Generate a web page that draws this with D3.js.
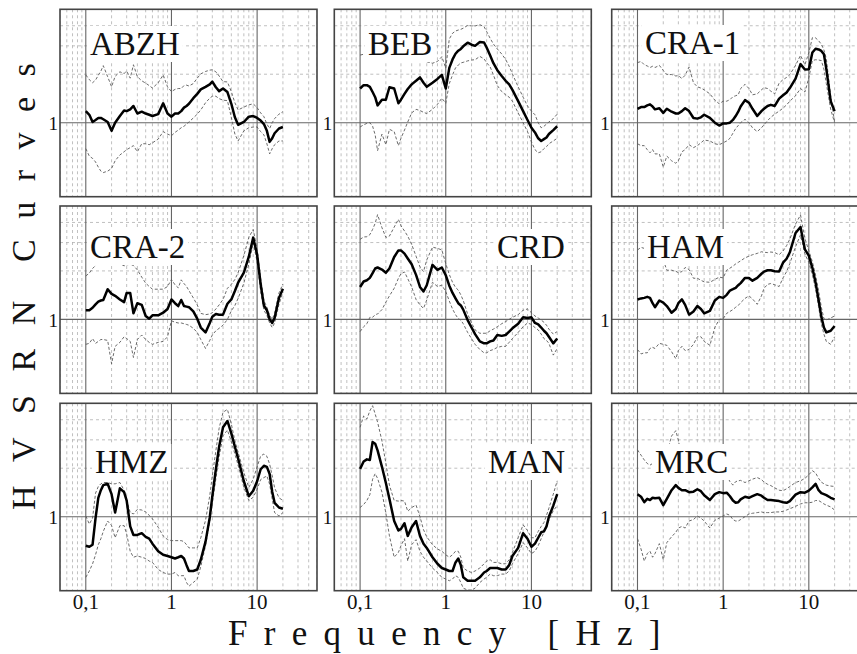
<!DOCTYPE html>
<html><head><meta charset="utf-8">
<script src="https://cdn.jsdelivr.net/npm/d3@7"></script>
<style>
html,body{margin:0;padding:0;background:#fff;overflow:hidden}
svg{display:block}
text{font-family:"Liberation Serif","Times New Roman",Times,serif;fill:#111}
</style></head><body>
<svg id="chart" width="857" height="654"></svg>
<script>
// ---------------- DATA ----------------
const stations = ["ABZH","BEB","CRA-1","CRA-2","CRD","HAM","HMZ","MAN","MRC"];
const freq = [0.10,0.11,0.12,0.13,0.14,0.15,0.16,0.18,0.20,0.22,0.25,0.28,0.30,0.33,0.36,0.40,0.45,0.50,0.55,0.60,0.70,0.80,0.90,1.0,1.1,1.2,1.3,1.4,1.5,1.6,1.8,2.0,2.2,2.5,2.8,3.0,3.3,3.6,4.0,4.5,5.0,5.5,6.0,7.0,8.0,9.0,10,11,12,13,14,15,16,18,20];

const abzhMean  = [1.18,1.12,1.01,1.04,1.07,1.07,1.05,1.01,0.89,1.00,1.10,1.19,1.18,1.21,1.27,1.14,1.17,1.14,1.12,1.10,1.13,1.32,1.14,1.09,1.14,1.14,1.18,1.24,1.27,1.31,1.42,1.51,1.61,1.67,1.73,1.80,1.66,1.57,1.63,1.55,1.31,1.08,0.97,1.01,1.09,1.10,1.07,1.03,0.98,0.89,0.76,0.80,0.86,0.92,0.94];
const abzhUpper = [1.98,1.85,1.77,1.84,1.97,2.09,2.26,1.93,1.67,1.94,2.07,2.02,2.09,1.89,2.29,1.93,1.82,1.76,1.70,1.64,1.77,1.98,1.67,1.56,1.61,1.63,1.63,1.70,1.71,1.69,1.75,1.89,2.01,2.08,2.12,2.13,2.07,1.95,1.80,1.79,1.56,1.33,1.20,1.25,1.29,1.31,1.24,1.15,1.09,0.98,0.92,1.00,1.06,1.13,1.17];
const abzhLower = [0.69,0.62,0.60,0.57,0.53,0.50,0.49,0.50,0.52,0.58,0.63,0.66,0.68,0.70,0.72,0.66,0.74,0.74,0.73,0.75,0.79,0.88,0.85,0.83,0.87,0.90,0.93,0.95,0.98,1.01,1.07,1.13,1.20,1.33,1.42,1.46,1.46,1.41,1.38,1.37,1.08,0.85,0.77,0.89,0.93,0.94,0.94,0.88,0.84,0.74,0.64,0.69,0.73,0.77,0.77];

const bebMean  = [1.63,1.71,1.71,1.67,1.55,1.44,1.28,1.39,1.39,1.66,1.63,1.32,1.39,1.51,1.62,1.73,1.82,1.91,1.77,1.67,1.77,1.87,1.98,1.63,2.19,2.47,2.68,2.80,2.87,2.98,3.14,3.05,3.00,3.17,3.15,2.93,2.61,2.34,2.12,1.95,1.82,1.73,1.60,1.36,1.18,1.04,0.93,0.87,0.80,0.77,0.79,0.81,0.85,0.90,0.95];
const bebUpper = [2.63,2.66,2.67,2.70,2.72,2.73,2.78,2.83,2.83,2.83,2.80,2.77,2.75,2.70,2.66,2.61,2.60,2.57,2.49,2.39,2.34,2.40,2.57,2.18,3.31,3.59,3.71,3.76,3.80,3.86,4.02,3.99,3.99,4.06,3.95,3.68,3.34,3.08,2.87,2.67,2.47,2.24,2.01,1.67,1.44,1.27,1.18,1.12,1.00,0.93,0.95,0.98,1.01,1.06,1.13];
const bebLower = [0.94,0.97,0.99,1.00,0.95,0.84,0.67,0.85,0.73,0.91,0.88,0.72,0.80,0.90,1.01,1.15,1.21,1.19,1.16,1.14,1.21,1.30,1.42,1.32,1.75,1.98,2.19,2.28,2.35,2.37,2.42,2.45,2.46,2.58,2.49,2.36,2.22,1.98,1.70,1.56,1.49,1.44,1.36,1.15,1.00,0.88,0.76,0.68,0.65,0.66,0.69,0.71,0.74,0.77,0.80];

const cra1Mean  = [1.22,1.25,1.25,1.28,1.30,1.26,1.21,1.23,1.15,1.22,1.17,1.14,1.14,1.18,1.23,1.18,1.07,1.06,1.08,1.12,1.07,1.00,0.96,0.99,0.99,1.00,1.04,1.10,1.17,1.26,1.38,1.33,1.22,1.10,1.18,1.22,1.27,1.29,1.27,1.41,1.48,1.54,1.64,1.88,2.31,2.14,2.15,2.73,2.88,2.85,2.79,2.66,2.16,1.36,1.18];
const cra1Upper = [2.36,2.40,2.29,2.25,2.20,2.24,2.20,2.27,2.11,1.99,1.99,1.95,1.96,1.88,1.97,2.22,1.77,1.67,1.64,1.60,1.51,1.38,1.31,1.36,1.36,1.39,1.45,1.47,1.49,1.63,1.73,1.63,1.49,1.51,1.60,1.65,1.63,1.57,1.51,1.76,1.85,1.91,1.99,2.27,2.62,2.29,2.72,3.37,3.36,3.23,3.07,2.83,2.50,1.46,1.01];
const cra1Lower = [0.74,0.72,0.72,0.68,0.65,0.68,0.64,0.64,0.53,0.62,0.58,0.56,0.58,0.66,0.68,0.73,0.70,0.72,0.75,0.78,0.77,0.74,0.73,0.75,0.77,0.80,0.86,0.92,0.96,1.00,1.05,1.00,0.93,0.88,0.93,0.97,1.03,1.08,1.13,1.18,1.23,1.29,1.36,1.47,1.63,1.55,1.90,2.43,2.46,2.45,2.43,2.15,1.75,1.21,1.00];

const cra2Mean  = [1.14,1.14,1.18,1.24,1.29,1.31,1.32,1.54,1.44,1.40,1.33,1.28,1.46,1.46,1.09,1.26,1.23,1.05,1.01,1.06,1.06,1.10,1.16,1.33,1.26,1.21,1.32,1.21,1.20,1.19,1.12,1.01,0.89,0.83,0.95,1.04,1.08,1.07,1.07,1.25,1.33,1.50,1.69,1.95,2.45,3.22,2.52,1.65,1.22,1.14,1.00,0.95,1.02,1.36,1.55];
const cra2Upper = [1.86,1.94,2.07,2.16,2.26,2.33,2.38,2.38,2.33,2.25,2.22,2.15,2.18,2.20,2.16,2.03,1.83,1.68,1.60,1.54,1.54,1.54,1.60,1.77,1.64,1.57,1.76,1.67,1.60,1.51,1.36,1.23,1.09,1.07,1.08,1.10,1.16,1.23,1.33,1.56,1.65,1.77,1.95,2.49,3.23,3.62,2.72,1.80,1.31,1.19,1.06,1.00,1.09,1.46,1.66];
const cra2Lower = [0.70,0.71,0.76,0.71,0.73,0.75,0.75,0.74,0.53,0.68,0.72,0.78,0.76,0.73,0.58,0.75,0.80,0.75,0.72,0.70,0.72,0.73,0.78,0.98,0.96,0.95,0.95,0.94,0.93,0.92,0.88,0.83,0.75,0.66,0.74,0.80,0.85,0.88,0.92,1.00,1.13,1.22,1.35,1.68,2.20,2.99,2.28,1.49,1.14,1.06,0.95,0.89,0.95,1.24,1.48];

const crdMean  = [1.59,1.72,1.75,1.81,1.94,2.07,2.10,2.04,1.95,2.07,2.44,2.68,2.68,2.56,2.39,2.20,1.89,1.59,1.49,1.63,2.18,2.03,2.10,1.88,1.62,1.46,1.35,1.26,1.22,1.15,0.99,0.89,0.81,0.73,0.71,0.71,0.73,0.74,0.80,0.79,0.80,0.84,0.88,0.94,1.03,1.02,1.03,0.95,0.93,0.89,0.85,0.82,0.78,0.71,0.76];
const crdUpper = [3.14,3.25,3.26,3.36,3.62,3.95,4.47,3.71,3.23,3.29,3.74,4.18,3.82,3.54,3.29,2.92,2.47,2.12,1.98,2.34,2.81,2.76,2.70,2.22,1.90,1.70,1.58,1.52,1.42,1.31,1.08,0.95,0.86,0.82,0.82,0.82,0.85,0.87,0.90,0.94,0.97,1.00,1.03,1.07,1.14,1.16,1.10,1.05,1.02,0.99,0.96,0.92,0.87,0.81,0.84];
const crdLower = [0.84,0.90,0.94,1.03,1.03,1.07,1.08,1.15,1.28,1.40,1.56,1.80,1.92,1.97,1.79,1.59,1.33,1.23,1.17,1.32,1.70,1.60,1.63,1.49,1.30,1.16,1.07,1.01,0.99,0.94,0.83,0.76,0.70,0.65,0.62,0.62,0.64,0.65,0.67,0.68,0.68,0.72,0.76,0.83,0.90,0.95,0.93,0.89,0.86,0.81,0.76,0.74,0.71,0.60,0.66];

const hamMean  = [1.33,1.35,1.36,1.38,1.36,1.26,1.19,1.31,1.27,1.21,1.10,1.16,1.26,1.33,1.23,1.07,1.12,1.21,1.16,1.09,1.13,1.31,1.38,1.36,1.42,1.51,1.54,1.57,1.63,1.68,1.81,1.81,1.74,1.81,1.92,1.98,2.02,2.02,1.99,1.98,2.25,2.38,2.61,3.44,3.75,2.72,2.49,2.09,1.69,1.32,1.04,0.89,0.83,0.85,0.91];
const hamUpper = [2.70,2.80,2.76,2.70,2.63,2.57,2.51,2.45,2.34,2.02,2.02,1.99,1.95,1.98,2.10,2.04,1.80,1.80,1.75,1.71,1.70,1.77,1.83,1.81,2.02,2.08,2.14,2.21,2.26,2.31,2.41,2.47,2.52,2.57,2.63,2.61,2.60,2.62,2.60,2.52,2.66,2.87,3.15,3.91,4.45,3.18,2.67,2.28,1.88,1.51,1.19,1.01,0.99,1.02,1.05];
const hamLower = [0.65,0.61,0.62,0.62,0.66,0.67,0.66,0.71,0.70,0.69,0.63,0.57,0.64,0.68,0.64,0.65,0.70,0.78,0.78,0.73,0.69,0.89,1.00,1.01,1.09,1.12,1.15,1.19,1.22,1.27,1.35,1.40,1.34,1.24,1.40,1.56,1.65,1.67,1.64,1.60,1.81,1.98,2.22,2.83,3.35,2.55,2.26,1.90,1.54,1.20,0.94,0.81,0.73,0.70,0.78];

const hmzMean  = [0.66,0.65,0.67,0.98,1.31,1.46,1.57,1.60,1.38,1.06,1.50,1.42,1.26,0.87,0.77,0.77,0.79,0.75,0.73,0.68,0.61,0.58,0.57,0.56,0.55,0.56,0.57,0.55,0.50,0.46,0.46,0.47,0.54,0.70,0.99,1.34,1.97,2.72,3.59,3.93,3.29,2.72,2.30,1.66,1.34,1.45,1.66,1.97,2.07,2.04,1.84,1.43,1.22,1.14,1.12];
const hmzUpper = [1.01,0.90,0.98,1.40,1.54,1.60,1.63,1.63,1.60,1.60,1.63,1.46,1.27,1.06,1.04,1.11,1.10,1.07,1.02,0.97,0.86,0.76,0.72,0.71,0.71,0.71,0.71,0.70,0.67,0.64,0.64,0.64,0.74,0.95,1.35,1.80,2.57,3.54,4.45,4.64,3.76,2.97,2.51,1.88,1.52,1.71,2.04,2.38,2.45,2.37,2.12,1.80,1.51,1.31,1.26];
const hmzLower = [0.42,0.46,0.51,0.58,0.67,0.73,0.81,0.94,0.88,0.74,0.88,0.88,0.78,0.61,0.56,0.57,0.56,0.55,0.53,0.52,0.47,0.45,0.44,0.44,0.45,0.43,0.43,0.43,0.39,0.37,0.39,0.41,0.49,0.66,0.94,1.21,1.72,2.35,3.18,3.45,2.92,2.45,2.09,1.52,1.26,1.32,1.48,1.70,1.75,1.79,1.59,1.29,1.06,1.01,1.06];

const manMean  = [1.98,2.20,2.27,2.25,2.91,2.84,2.58,2.04,1.62,1.29,0.94,0.82,0.84,0.91,0.76,0.86,0.94,0.76,0.68,0.64,0.56,0.51,0.48,0.47,0.46,0.46,0.52,0.55,0.50,0.42,0.40,0.40,0.40,0.42,0.45,0.46,0.48,0.48,0.48,0.47,0.47,0.50,0.57,0.64,0.79,0.73,0.65,0.68,0.74,0.80,0.81,0.87,1.00,1.17,1.38];
const manUpper = [3.59,4.22,4.04,4.54,4.89,4.34,3.87,2.95,2.15,1.57,1.26,1.25,1.26,1.25,1.08,1.14,1.18,1.00,0.83,0.75,0.67,0.63,0.61,0.58,0.56,0.58,0.61,0.61,0.56,0.48,0.46,0.45,0.46,0.48,0.51,0.53,0.54,0.52,0.52,0.51,0.51,0.54,0.60,0.74,0.89,0.82,0.74,0.74,0.81,0.87,0.92,1.02,1.13,1.38,1.67];
const manLower = [1.14,1.19,1.26,1.37,1.71,1.85,1.73,1.42,1.05,0.76,0.56,0.60,0.66,0.73,0.53,0.67,0.72,0.61,0.56,0.53,0.48,0.45,0.42,0.41,0.40,0.41,0.43,0.42,0.39,0.36,0.35,0.35,0.36,0.39,0.41,0.42,0.44,0.43,0.43,0.44,0.44,0.46,0.51,0.59,0.69,0.64,0.59,0.61,0.66,0.73,0.80,0.87,0.95,1.09,1.17];

const mrcMean  = [1.38,1.33,1.23,1.29,1.27,1.31,1.30,1.31,1.18,1.29,1.46,1.57,1.51,1.46,1.46,1.42,1.43,1.48,1.44,1.36,1.27,1.38,1.42,1.40,1.41,1.34,1.26,1.22,1.23,1.28,1.33,1.31,1.34,1.38,1.35,1.31,1.27,1.27,1.26,1.25,1.23,1.22,1.25,1.37,1.42,1.41,1.45,1.52,1.60,1.46,1.40,1.38,1.36,1.31,1.28];
const mrcUpper = [2.60,2.41,2.25,2.14,2.09,2.14,2.04,2.09,1.99,2.47,3.17,3.42,2.99,2.25,2.04,1.99,1.95,1.99,1.95,1.90,1.81,1.86,1.90,1.86,1.81,1.65,1.57,1.65,1.67,1.68,1.63,1.67,1.71,1.75,1.70,1.64,1.59,1.56,1.51,1.46,1.45,1.49,1.54,1.63,1.67,1.73,1.82,1.93,1.87,1.73,1.64,1.60,1.57,1.55,1.54];
const mrcLower = [0.73,0.63,0.53,0.59,0.61,0.56,0.59,0.68,0.54,0.69,0.75,0.80,0.85,0.87,0.85,0.94,0.96,1.01,0.98,0.94,0.85,0.95,0.98,1.01,1.04,1.02,0.96,0.94,0.94,0.96,1.00,1.04,1.05,1.06,1.07,1.06,1.06,1.06,1.07,1.07,1.08,1.10,1.12,1.16,1.20,1.22,1.22,1.23,1.26,1.26,1.23,1.20,1.18,1.15,1.10];

const xTickValues = [0.1, 1, 10];
const xTickLabels = ["0,1", "1", "10"];
const yTickValues = [1];
const yTickLabels = ["1"];
const yGridValues = [2, 3, 4];
const xTitle = "Frequency [Hz]";
const yTitleWords = ["HVSRN", "Curves"];

const series = {
  "ABZH": [abzhMean, abzhUpper, abzhLower],
  "BEB": [bebMean, bebUpper, bebLower],
  "CRA-1": [cra1Mean, cra1Upper, cra1Lower],
  "CRA-2": [cra2Mean, cra2Upper, cra2Lower],
  "CRD": [crdMean, crdUpper, crdLower],
  "HAM": [hamMean, hamUpper, hamLower],
  "HMZ": [hmzMean, hmzUpper, hmzLower],
  "MAN": [manMean, manUpper, manLower],
  "MRC": [mrcMean, mrcUpper, mrcLower]
};

// ---------------- LAYOUT ----------------
const colLeft = [60, 334.3, 611.7];
const rowTop = [9.3, 206, 403.3];
const pw = 257, ph = 187.4;
const labelOffset = {
  "ABZH": [30, 45.7], "BEB": [33.7, 45.7], "CRA-1": [33.3, 44.7],
  "CRA-2": [30, 52], "CRD": [162.7, 52], "HAM": [35.3, 52],
  "HMZ": [35, 69.7], "MAN": [153.7, 69.7], "MRC": [43.3, 69.7]
};

const svg = d3.select("#chart");
const x = d3.scaleLog().domain([0.05, 50]).range([0, pw]);
const y = d3.scaleLog().domain([0.347, 5.06]).range([ph, 0]);

const vGrid = [];
[0.01, 0.1, 1, 10].forEach(dec => {
  for (let k = 1; k <= 9; k++) {
    const v = +(k * dec).toPrecision(3);
    if (v >= 0.05 && v <= 50) vGrid.push({v, major: k === 1});
  }
});

const defs = svg.append("defs");
const line = d3.line().x((d, i) => x(freq[i])).y(d => y(d));

stations.forEach((name, idx) => {
  const c = idx % 3, r = Math.floor(idx / 3);
  const g = svg.append("g").attr("transform", `translate(${colLeft[c]},${rowTop[r]})`);
  const clipId = "clip" + idx;
  defs.append("clipPath").attr("id", clipId).append("rect")
    .attr("x", 0).attr("y", 0).attr("width", pw).attr("height", ph);

  const grid = g.append("g").attr("clip-path", `url(#${clipId})`);
  grid.selectAll("line.vmin").data(vGrid.filter(d => !d.major)).join("line")
    .attr("x1", d => x(d.v)).attr("x2", d => x(d.v)).attr("y1", 0).attr("y2", ph)
    .attr("stroke", "#b0b0b0").attr("stroke-width", 0.8).attr("stroke-dasharray", "3,3");
  grid.selectAll("line.hmin").data(yGridValues).join("line")
    .attr("x1", 0).attr("x2", pw).attr("y1", d => y(d)).attr("y2", d => y(d))
    .attr("stroke", "#b0b0b0").attr("stroke-width", 0.8).attr("stroke-dasharray", "3,3");
  grid.selectAll("line.vmaj").data(vGrid.filter(d => d.major)).join("line")
    .attr("x1", d => x(d.v)).attr("x2", d => x(d.v)).attr("y1", 0).attr("y2", ph)
    .attr("stroke", "#666").attr("stroke-width", 1.1);
  grid.selectAll("line.hmaj").data(yTickValues).join("line")
    .attr("x1", 0).attr("x2", pw).attr("y1", d => y(d)).attr("y2", d => y(d))
    .attr("stroke", "#666").attr("stroke-width", 1.1);

  const [mean, upper, lower] = series[name];
  const curves = g.append("g").attr("clip-path", `url(#${clipId})`);
  [upper, lower].forEach(arr => {
    curves.append("path").datum(arr).attr("d", line)
      .attr("fill", "none").attr("stroke", "#5a5a5a").attr("stroke-width", 0.9)
      .attr("stroke-dasharray", "3,2");
  });
  curves.append("path").datum(mean).attr("d", line)
    .attr("fill", "none").attr("stroke", "#000").attr("stroke-width", 2.5)
    .attr("stroke-linejoin", "round");

  const lg = g.append("g");
  const t = lg.append("text").attr("x", labelOffset[name][0]).attr("y", labelOffset[name][1])
    .attr("font-size", 33).text(name);
  const bb = t.node().getBBox();
  lg.insert("rect", "text").attr("x", bb.x - 3).attr("y", bb.y).attr("width", bb.width + 6)
    .attr("height", bb.height).attr("fill", "#fff");

  g.append("rect").attr("x", 0).attr("y", 0).attr("width", pw).attr("height", ph)
    .attr("fill", "none").attr("stroke", "#444").attr("stroke-width", 1.6);

  g.selectAll("text.yt").data(yTickValues).join("text")
    .attr("x", -2).attr("y", d => y(d) + 1).attr("text-anchor", "end")
    .attr("dominant-baseline", "central").attr("font-size", 19)
    .text((d, i) => yTickLabels[i]);

  if (r === 2) {
    g.selectAll("text.xt").data(xTickValues).join("text")
      .attr("x", d => x(d)).attr("y", ph + 18.6).attr("text-anchor", "middle")
      .attr("font-size", 21).text((d, i) => xTickLabels[i]);
  }
});

svg.append("text").attr("x", 228).attr("y", 645).attr("font-size", 35)
  .style("letter-spacing", "16.3px").text(xTitle);
svg.append("text").attr("transform", "translate(35,510) rotate(-90)").attr("font-size", 34)
  .style("letter-spacing", "23.5px").text(yTitleWords[0]);
svg.append("text").attr("transform", "translate(35,262) rotate(-90)").attr("font-size", 34)
  .style("letter-spacing", "20.5px").text(yTitleWords[1]);
</script>
</body></html>
